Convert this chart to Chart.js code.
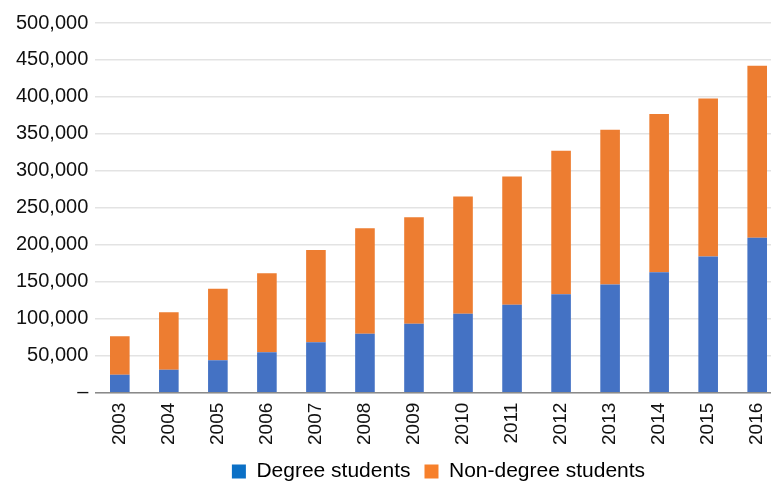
<!DOCTYPE html>
<html>
<head>
<meta charset="utf-8">
<script src="https://cdn.jsdelivr.net/npm/chart.js@4"></script>
<style>
  html, body { margin: 0; padding: 0; background: #fff; overflow: hidden; }
  #wrap { width: 782px; height: 478px; padding-top: 4px; }
</style>
</head>
<body>
<div id="wrap"><canvas id="studentsChart"></canvas></div>
<script>
// data
const years = ['2003','2004','2005','2006','2007','2008','2009','2010','2011','2012','2013','2014','2015','2016'];
const degree = [24300, 31000, 44000, 54900, 68400, 79700, 93200, 106800, 118900, 133200, 146400, 163000, 184200, 209500];
const nonDegree = [52200, 78000, 96500, 106700, 124600, 142700, 144100, 158500, 173400, 194200, 209400, 214000, 213800, 232800];
const seriesNames = ['Degree students', 'Non-degree students'];
const yTicks = [0, 50000, 100000, 150000, 200000, 250000, 300000, 350000, 400000, 450000, 500000];

const barColors = ['#4472C4', '#ED7D31'];
const legendColors = ['#0B70C6', '#F7802B'];

Chart.defaults.font.family = '"Liberation Sans", Arial, sans-serif';
Chart.defaults.font.size = 20;
Chart.defaults.color = '#111';

new Chart(document.getElementById('studentsChart'), {
  type: 'bar',
  data: {
    labels: years,
    datasets: [
      { label: seriesNames[0], data: degree, backgroundColor: barColors[0] },
      { label: seriesNames[1], data: nonDegree, backgroundColor: barColors[1] }
    ]
  },
  options: {
    responsive: true,
    maintainAspectRatio: false,
    animation: false,
    layout: { padding: { top: 10, left: 9, right: 0, bottom: -10 } },
    datasets: { bar: { barPercentage: 0.4, categoryPercentage: 1 } },
    scales: {
      x: {
        stacked: true,
        grid: { display: false },
        border: { display: true, color: '#8a8a8a', width: 1.5 },
        ticks: { minRotation: 90, maxRotation: 90, padding: 2, font: { size: 19 } }
      },
      y: {
        stacked: true,
        min: 0,
        max: 500000,
        afterBuildTicks: axis => { axis.ticks = yTicks.map(v => ({ value: v })); },
        grid: { color: '#e3e3e3', lineWidth: 1.5, drawTicks: false },
        border: { display: false },
        ticks: {
          padding: 7,
          font: { size: 20 },
          callback: v => v === 0 ? '–' : v.toLocaleString('en-US')
        }
      }
    },
    plugins: {
      tooltip: { enabled: false },
      legend: {
        position: 'bottom',
        fullSize: false,
        labels: {
          boxWidth: 14,
          boxHeight: 14,
          padding: 14,
          font: { size: 21 },
          generateLabels: chart => chart.data.datasets.map((ds, i) => ({
            text: ds.label,
            fillStyle: legendColors[i],
            strokeStyle: legendColors[i],
            lineWidth: 0,
            datasetIndex: i
          }))
        }
      }
    }
  }
});
</script>
</body>
</html>
